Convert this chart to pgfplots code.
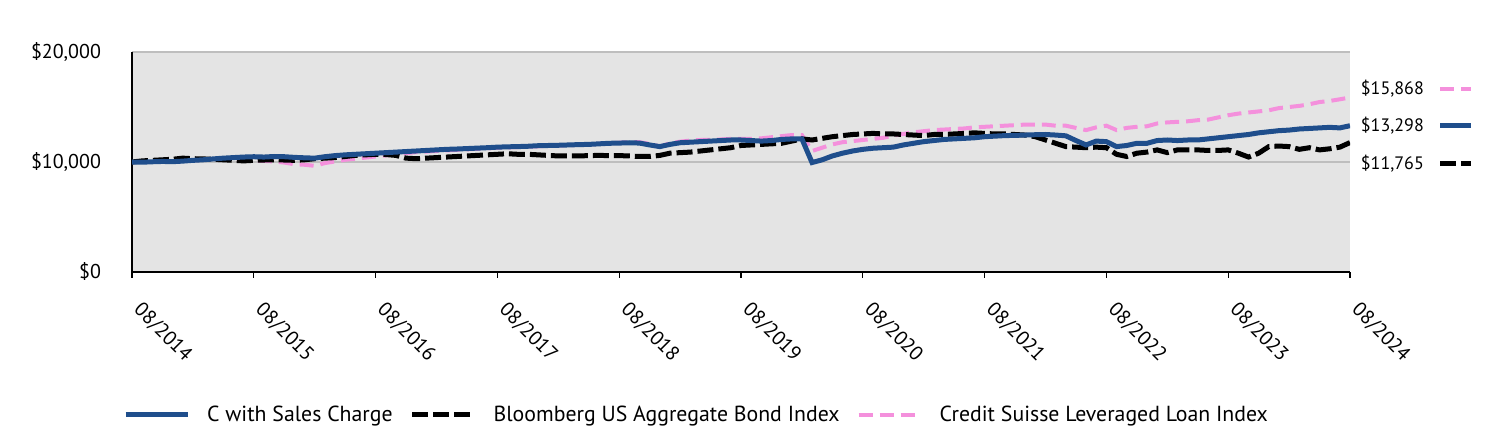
\documentclass[border=0pt]{standalone}
\usepackage{fontspec}
\setmainfont{PT Sans}
\usepackage{pgfplots}
\usepackage{pgfplotstable}
\pgfplotsset{compat=1.18}

\definecolor{fundblue}{HTML}{1F4E8C}
\definecolor{loanpink}{HTML}{F490DC}
\definecolor{plotbg}{HTML}{E4E4E4}
\definecolor{gridgray}{HTML}{BEBEBE}

% growth of $10,000, month index 0 = 08/2014
\pgfplotstableread{
m fund agg loan
0 10000 10000 10000
1 9980 10100 10020
2 10020 10150 10050
3 10050 10200 10000
4 10030 10250 10050
5 10080 10350 10100
6 10150 10300 10150
7 10200 10280 10200
8 10280 10250 10230
9 10350 10200 10250
10 10400 10150 10200
11 10450 10100 10150
12 10480 10150 10150
13 10450 10180 10100
14 10500 10200 10050
15 10480 10180 9950
16 10420 10150 9800
17 10380 10200 9750
18 10350 10300 9650
19 10480 10350 9900
20 10580 10400 10050
21 10650 10500 10200
22 10700 10600 10300
23 10750 10650 10400
24 10800 10700 10500
25 10850 10680 10600
26 10900 10600 10700
27 10950 10350 10800
28 11000 10300 10900
29 11050 10350 10950
30 11100 10400 11000
31 11150 10450 11050
32 11180 10500 11100
33 11220 10550 11150
34 11260 10600 11200
35 11300 10650 11250
36 11350 10700 11300
37 11380 10750 11330
38 11400 10700 11360
39 11430 10700 11400
40 11480 10650 11430
41 11500 10600 11460
42 11520 10550 11500
43 11550 10550 11530
44 11580 10550 11560
45 11600 10580 11600
46 11650 10600 11650
47 11700 10580 11700
48 11720 10580 11750
49 11750 10550 11800
50 11720 10500 11800
51 11550 10500 11650
52 11400 10600 11400
53 11600 10800 11700
54 11750 10850 11850
55 11800 10900 11950
56 11850 11000 12000
57 11900 11100 12000
58 11950 11200 12050
59 12000 11300 12100
60 12000 11500 12100
61 11950 11550 12100
62 11900 11600 12150
63 11950 11650 12250
64 12050 11700 12350
65 12100 11900 12450
66 12100 12100 12450
67 9950 12000 11000
68 10200 12150 11300
69 10550 12300 11600
70 10800 12400 11800
71 11000 12500 11900
72 11150 12550 12000
73 11250 12600 12100
74 11300 12550 12200
75 11350 12550 12400
76 11550 12500 12550
77 11700 12450 12700
78 11850 12400 12800
79 11950 12500 12900
80 12050 12500 12950
81 12100 12550 13000
82 12150 12600 13050
83 12200 12650 13150
84 12300 12600 13200
85 12350 12550 13250
86 12400 12550 13300
87 12420 12500 13350
88 12450 12450 13400
89 12480 12300 13400
90 12500 12000 13400
91 12450 11700 13300
92 12380 11400 13300
93 11950 11350 13100
94 11550 11300 12900
95 11900 11350 13150
96 11850 11300 13300
97 11400 10700 12900
98 11500 10500 13100
99 11700 10800 13200
100 11700 10900 13250
101 11950 11100 13500
102 12000 10850 13600
103 11950 11100 13650
104 12000 11100 13700
105 12000 11100 13800
106 12100 11050 13850
107 12200 11050 14050
108 12300 11100 14250
109 12400 10800 14400
110 12500 10450 14500
111 12650 10800 14600
112 12750 11400 14700
113 12850 11450 14900
114 12900 11400 15000
115 13000 11150 15100
116 13050 11300 15250
117 13100 11100 15450
118 13150 11200 15550
119 13100 11350 15700
120 13298 11765 15868
}\growth

\pgfplotsset{
  fundline/.style={fundblue, line width=2.5pt},
  aggline/.style={black, line width=2.5pt, dash pattern=on 8pt off 2.5pt},
  loanline/.style={loanpink, line width=2pt, dash pattern=on 7pt off 3.5pt},
}
\newcommand{\tickfont}{\fontsize{10}{12}\selectfont}
\newcommand{\legfont}{\fontsize{10.9}{13}\selectfont}
\newcommand{\valuefont}{\fontsize{9}{11}\selectfont}

\begin{document}
\begin{tikzpicture}
\useasboundingbox (0,0) rectangle (756pt,-216pt);
\begin{axis}[
  at={(66pt,-136pt)}, anchor=south west,
  width=609pt, height=110pt, scale only axis,
  xmin=0, xmax=120, ymin=0, ymax=20000,
  scaled y ticks=false,
  axis background/.style={fill=plotbg},
  axis x line*=bottom, axis y line*=left,
  axis line style={black, line width=0.8pt},
  xtick={0,12,...,120},
  xticklabels={\mbox{08/2014},\mbox{08/2015},\mbox{08/2016},\mbox{08/2017},\mbox{08/2018},\mbox{08/2019},\mbox{08/2020},\mbox{08/2021},\mbox{08/2022},\mbox{08/2023},\mbox{08/2024}},
  x tick label style={rotate=-45, anchor=north west, font=\tickfont, xshift=8.5pt, yshift=-0.6pt},
  ytick={0,10000,20000},
  yticklabels={\mbox{\$0},\mbox{\$10,000},\mbox{\$20,000}},
  y tick label style={font=\tickfont, xshift=-9pt},
  ymajorgrids, grid style={gridgray, line width=0.8pt},
  ytick style={draw=none},
  xtick style={black, line width=0.6pt},
  tick align=outside, major tick length=3pt,
  legend columns=3, reverse legend,
  legend style={at={(0.4647,-0.65)}, anchor=center, draw=none, fill=none,
    font=\legfont, column sep=6pt,
    nodes={inner ysep=2pt, inner xsep=2.5pt}},
  legend image code/.code={\draw[#1] (0pt,0pt) -- (31pt,0pt);},
]
\addplot[loanline] table[x=m, y=loan] {\growth};
\addlegendentry{Credit Suisse Leveraged Loan Index}
\addplot[aggline] table[x=m, y=agg] {\growth};
\addlegendentry{Bloomberg US Aggregate Bond Index}
\addplot[fundline] table[x=m, y=fund] {\growth};
\addlegendentry{C with Sales Charge}
\end{axis}
\begin{axis}[
  at={(66pt,-136pt)}, anchor=south west,
  width=609pt, height=110pt, scale only axis,
  xmin=0, xmax=1, ymin=0, ymax=1, hide axis,
  legend plot pos=right,
  legend style={at={(1.0004,0.664)}, anchor=west, draw=none, fill=none,
    font=\valuefont, row sep=6pt, column sep=5pt,
    nodes={inner sep=2pt}},
  legend image code/.code={\draw[#1] (0pt,0pt) -- (15.5pt,0pt);},
]
\addlegendimage{loanline}
\addlegendentry{\$15,868}
\addlegendimage{fundline}
\addlegendentry{\$13,298}
\addlegendimage{aggline}
\addlegendentry{\$11,765}
\end{axis}
\end{tikzpicture}
\end{document}
